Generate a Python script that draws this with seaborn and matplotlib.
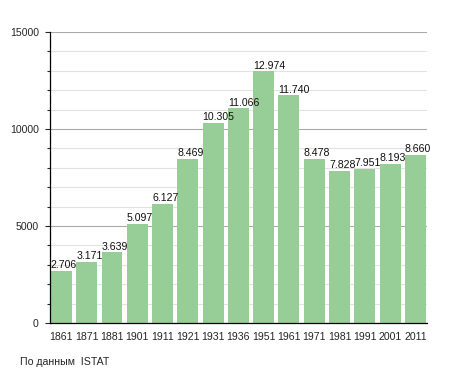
import matplotlib
matplotlib.use("Agg")
import matplotlib.pyplot as plt
from matplotlib.ticker import MultipleLocator
import pandas as pd
import seaborn as sns

years = ["1861", "1871", "1881", "1901", "1911", "1921", "1931", "1936",
         "1951", "1961", "1971", "1981", "1991", "2001", "2011"]
population = [2706, 3171, 3639, 5097, 6127, 8469, 10305, 11066,
              12974, 11740, 8478, 7828, 7951, 8193, 8660]
labels = ["2.706", "3.171", "3.639", "5.097", "6.127", "8.469", "10.305", "11.066",
          "12.974", "11.740", "8.478", "7.828", "7.951", "8.193", "8.660"]

sns.set_style("white")
plt.rcParams['font.family'] = ['Liberation Sans', 'DejaVu Sans']

df = pd.DataFrame({"year": years, "pop": population})

fig = plt.figure(figsize=(4.55, 3.73), dpi=100)
ax = fig.add_axes([0.110, 0.134, 0.828, 0.780])

bar_w = 0.83
fs = 7.6
sns.barplot(data=df, x="year", y="pop", color="#97cd97", saturation=1,
            width=bar_w, ax=ax, zorder=2, linewidth=0)

for i, (v, lab) in enumerate(zip(population, labels)):
    ax.text(i - bar_w / 2, v + 40, lab, ha="left", va="bottom",
            fontsize=fs, color="#111111", zorder=3)

ax.set_xlim(-0.45, 14.45)
ax.set_ylim(0, 15000)
ax.yaxis.set_major_locator(MultipleLocator(5000))
ax.yaxis.set_minor_locator(MultipleLocator(1000))
ax.grid(which="major", axis="y", color="#aaaaaa", linewidth=0.8, zorder=0)
ax.grid(which="minor", axis="y", color="#e2e2e2", linewidth=0.8, zorder=0)
ax.set_axisbelow(True)

for s in ["top", "right"]:
    ax.spines[s].set_visible(False)
for s in ["left", "bottom"]:
    ax.spines[s].set_color("black")
    ax.spines[s].set_linewidth(0.9)

ax.tick_params(axis="y", which="major", left=True, length=3.6, width=0.8,
               labelsize=fs, pad=4.5)
ax.tick_params(axis="y", which="minor", left=True, length=2, width=0.8)
ax.tick_params(axis="x", bottom=False, labelsize=fs, pad=3)
ax.set_xlabel("")
ax.set_ylabel("")

fig.text(20 / 455, 1 - 362 / 373, "По данным  ISTAT", fontsize=fs,
         ha="left", va="center")

fig.savefig("out.png", dpi=100)
